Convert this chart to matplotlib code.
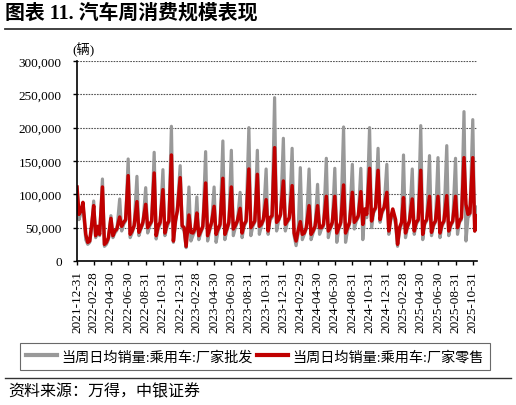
import matplotlib
matplotlib.use('Agg')
import matplotlib.pyplot as plt
from matplotlib.lines import Line2D
from matplotlib.ticker import FuncFormatter, MultipleLocator
import pandas as pd

plt.rcParams['font.family'] = ['Liberation Serif', 'Noto Sans CJK SC']

# weekly daily-average sales, thousand vehicles: points on the 7th, 14th, 21st and month end
first_date = '2021-12-31'
first_wholesale = 110
first_retail = 111

wholesale_2022 = [62, 72, 85, 32, 25, 28, 50, 90, 35, 48, 38, 123, 22, 25, 32, 68,
                  35, 42, 46, 93, 45, 55, 60, 153, 35, 42, 52, 127, 38, 48, 55, 110,
                  42, 52, 58, 163, 33, 48, 55, 137, 38, 50, 58, 202, 28, 55, 80, 143]
retail_2022 = [70, 75, 88, 40, 28, 30, 55, 83, 38, 52, 40, 111, 25, 28, 35, 64,
               38, 45, 48, 66, 52, 58, 62, 128, 40, 45, 53, 89, 43, 50, 58, 85,
               50, 55, 60, 132, 38, 52, 58, 107, 42, 55, 60, 159, 30, 60, 75, 125]

wholesale_2023 = [50, 45, 20, 111, 30, 38, 45, 96, 32, 42, 50, 164, 30, 45, 55, 111,
                  28, 45, 52, 180, 32, 45, 55, 166, 38, 50, 58, 103, 35, 52, 58, 200,
                  38, 52, 58, 166, 40, 52, 60, 138, 40, 62, 65, 245, 45, 60, 68, 184]
retail_2023 = [53, 50, 22, 69, 43, 42, 48, 72, 38, 45, 52, 117, 38, 48, 58, 82,
               40, 48, 55, 124, 40, 48, 58, 111, 48, 53, 60, 79, 42, 55, 60, 138,
               50, 55, 60, 130, 52, 55, 62, 92, 45, 65, 68, 170, 58, 62, 70, 120]

wholesale_2024 = [45, 58, 62, 169, 38, 23, 40, 140, 32, 40, 48, 138, 32, 42, 50, 115,
                  40, 48, 52, 154, 35, 48, 55, 139, 28, 48, 55, 201, 28, 46, 55, 145,
                  48, 60, 65, 139, 32, 72, 65, 200, 50, 72, 78, 169, 58, 72, 78, 145]
retail_2024 = [55, 60, 65, 113, 42, 30, 45, 59, 40, 42, 50, 83, 40, 45, 52, 83,
               50, 50, 55, 97, 45, 50, 58, 97, 42, 50, 58, 114, 42, 50, 58, 103,
               58, 62, 68, 104, 55, 78, 70, 139, 60, 75, 80, 136, 62, 75, 80, 103]

wholesale_2025 = [40, 62, 75, 55, 22, 45, 55, 159, 35, 50, 58, 138, 40, 55, 60, 203,
                  32, 55, 60, 158, 38, 52, 58, 155, 35, 52, 58, 173, 38, 52, 58, 154,
                  40, 58, 62, 224, 30, 65, 70, 212, 45, 81]
retail_2025 = [45, 65, 78, 62, 25, 50, 58, 95, 42, 52, 60, 93, 45, 58, 62, 136,
               40, 58, 62, 97, 43, 55, 60, 97, 42, 55, 60, 98, 45, 55, 60, 97,
               50, 60, 65, 155, 85, 70, 72, 155, 45, 68]

last_dates = ['2025-11-07', '2025-11-14']

# build the weekly dates
dates = [pd.Timestamp(first_date)]
for m in pd.period_range('2022-01', '2025-10', freq='M'):
    for d in (7, 14, 21):
        dates.append(pd.Timestamp(year=m.year, month=m.month, day=d))
    dates.append(m.to_timestamp(how='end').normalize())
dates += [pd.Timestamp(d) for d in last_dates]

wholesale = [first_wholesale] + wholesale_2022 + wholesale_2023 + wholesale_2024 + wholesale_2025
retail = [first_retail] + retail_2022 + retail_2023 + retail_2024 + retail_2025
wholesale = [v * 1000 for v in wholesale]
retail = [v * 1000 for v in retail]

fig = plt.figure(figsize=(5.16, 4.06), dpi=100)
ax = fig.add_axes([77 / 516, 1 - 262 / 406, 400 / 516, 200 / 406])

ax.plot(dates, wholesale, color='#999999', lw=2.3, solid_joinstyle='round')
ax.plot(dates, retail, color='#C00000', lw=2.5, solid_joinstyle='round')

ax.set_ylim(0, 300000)
ax.set_xlim(pd.Timestamp('2021-12-31'), pd.Timestamp('2025-11-15'))
ax.yaxis.set_major_locator(MultipleLocator(50000))
ax.yaxis.set_major_formatter(FuncFormatter(lambda v, p: f'{int(v):,}'))
ticks = pd.date_range('2021-12-31', '2025-10-31', freq='2ME')
ax.set_xticks(ticks)
ax.set_xticklabels([t.strftime('%Y-%m-%d') for t in ticks], rotation=90)
ax.tick_params(axis='both', labelsize=9.5, length=3, width=1, color='black')
ax.tick_params(axis='y', pad=8)
ax.grid(axis='y', linestyle=(0, (1.5, 1)), color='#555555', lw=0.8)
ax.set_axisbelow(True)
for s in ('top', 'right'):
    ax.spines[s].set_visible(False)
ax.spines['left'].set_linewidth(1.2)
ax.spines['bottom'].set_linewidth(1.2)

# title, unit and source
fig.text(5 / 516, 1 - 14 / 406, '图表 11. 汽车周消费规模表现', fontsize=14.3, fontweight='bold',
         va='center', ha='left', family=['Liberation Serif', 'Noto Sans CJK SC'])
fig.add_artist(Line2D([5 / 516, 511 / 516], [1 - 29.5 / 406] * 2, color='#333333', lw=1.3))
fig.text(72 / 516, 1 - 50 / 406, '(辆)', fontsize=9.5, va='center', ha='left')
fig.add_artist(Line2D([5 / 516, 511 / 516], [1 - 379 / 406] * 2, color='#333333', lw=1.0))
fig.text(8 / 516, 1 - 392 / 406, '资料来源：万得，中银证券', fontsize=11.5, va='center', ha='left',
         style='italic', family=['Noto Sans CJK SC'])

handles = [Line2D([], [], color='#999999', lw=3), Line2D([], [], color='#C00000', lw=3)]
labels = ['当周日均销量:乘用车:厂家批发', '当周日均销量:乘用车:厂家零售']
leg = fig.legend(handles, labels, loc='center', bbox_to_anchor=(255 / 516, 1 - 357.5 / 406), ncol=2,
                 fontsize=10.2, frameon=True, fancybox=False, edgecolor='#444444', handlelength=2.2,
                 handletextpad=0.3, columnspacing=0.3, borderpad=0.45)
leg.get_frame().set_linewidth(0.8)

fig.savefig('out.png', dpi=100)
